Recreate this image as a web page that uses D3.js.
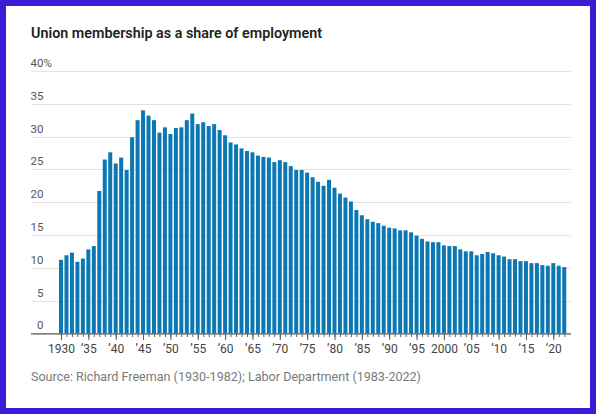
<!DOCTYPE html>
<html>
<head>
<meta charset="utf-8">
<script src="https://cdn.jsdelivr.net/npm/d3@7"></script>
<style>
  html, body { margin: 0; padding: 0; background: #fff; }
  svg { display: block; }
  text { font-family: Roboto, "Open Sans", sans-serif; }
</style>
</head>
<body>
<div id="chart"></div>
<script>
// union membership, share of employment (%)
var years = [1930,1931,1932,1933,1934,1935,1936,1937,1938,1939,
  1940,1941,1942,1943,1944,1945,1946,1947,1948,1949,
  1950,1951,1952,1953,1954,1955,1956,1957,1958,1959,
  1960,1961,1962,1963,1964,1965,1966,1967,1968,1969,
  1970,1971,1972,1973,1974,1975,1976,1977,1978,1979,
  1980,1981,1982,1983,1984,1985,1986,1987,1988,1989,
  1990,1991,1992,1993,1994,1995,1996,1997,1998,1999,
  2000,2001,2002,2003,2004,2005,2006,2007,2008,2009,
  2010,2011,2012,2013,2014,2015,2016,2017,2018,2019,
  2020,2021,2022];

var shares = [11.2,11.9,12.3,10.9,11.4,12.8,13.3,21.7,26.5,27.6,
  25.9,26.8,24.9,29.9,32.5,34.0,33.2,32.5,30.6,31.4,
  30.4,31.3,31.4,32.5,33.5,31.9,32.2,31.6,31.9,31.0,
  30.2,29.1,28.8,28.2,27.8,27.6,27.1,26.9,26.8,26.1,
  26.4,26.1,25.5,24.9,24.9,24.5,23.8,23.1,22.5,23.4,
  22.2,21.3,20.7,20.1,18.8,18.0,17.4,17.0,16.8,16.4,
  16.1,16.0,15.7,15.7,15.4,14.9,14.4,14.0,13.9,13.9,
  13.4,13.3,13.3,12.8,12.5,12.5,11.9,12.1,12.4,12.2,
  11.9,11.7,11.3,11.3,11.0,11.0,10.7,10.7,10.4,10.3,
  10.7,10.3,10.1];

var yTicks = [0, 5, 10, 15, 20, 25, 30, 35, 40];
var yTickLabels = ["0", "5", "10", "15", "20", "25", "30", "35", "40"];

var xTicks = [1930,1935,1940,1945,1950,1955,1960,1965,1970,1975,1980,1985,1990,1995,2000,2005,2010,2015,2020];
var xTickLabels = ["1930","\u201935","\u201940","\u201945","\u201950","\u201955","\u201960","\u201965","\u201970","\u201975",
  "\u201980","\u201985","\u201990","\u201995","2000","\u201905","\u201910","\u201915","\u201920"];

var titleText = "Union membership as a share of employment";
var sourceText = "Source: Richard Freeman (1930-1982); Labor Department (1983-2022)";

var W = 596, H = 414;
var left = 31, right = 571;

var svg = d3.select("#chart").append("svg")
  .attr("width", W).attr("height", H);

// purple frame
svg.append("rect").attr("width", W).attr("height", H).attr("fill", "#3d1bd6");
svg.append("rect").attr("x", 6).attr("y", 6).attr("width", 584).attr("height", 402).attr("fill", "#ffffff");

var step = 5.47;
var x = d3.scaleBand()
  .domain(years)
  .range([61 - step / 2, 61 + step * (years.length - 0.5)])
  .paddingInner(0.27)
  .paddingOuter(0.135);

var y = d3.scaleLinear().domain([0, 40]).range([333.3, 71]);

// title is a narrow face in the original, so squeeze glyphs to its width
svg.append("text")
  .attr("x", left).attr("y", 38)
  .attr("font-size", 15.5).attr("font-weight", 600).attr("fill", "#222")
  .attr("font-family", "'Open Sans', Roboto, sans-serif")
  .attr("textLength", 291).attr("lengthAdjust", "spacingAndGlyphs")
  .text(titleText);

// gridlines + y labels (right aligned numbers, % hangs off the top one)
var grid = svg.append("g");
grid.selectAll("line").data(yTicks.filter(function(d){ return d > 0; }))
  .enter().append("line")
  .attr("x1", left).attr("x2", right)
  .attr("y1", function(d){ return Math.round(y(d)) + 0.5; })
  .attr("y2", function(d){ return Math.round(y(d)) + 0.5; })
  .attr("stroke", "#e2e2e2").attr("stroke-width", 1);

grid.selectAll("text.yl").data(yTicks)
  .enter().append("text")
  .attr("class", "yl")
  .attr("x", 43.5)
  .attr("y", function(d){ return y(d) - 4; })
  .attr("text-anchor", "end")
  .attr("font-size", 11.5).attr("fill", "#555")
  .text(function(d, i){ return yTickLabels[i]; });

grid.append("text")
  .attr("x", 43.5).attr("y", y(40) - 4)
  .attr("font-size", 11.5).attr("fill", "#555")
  .text("%");

// bars
svg.append("g").selectAll("rect").data(shares)
  .enter().append("rect")
  .attr("x", function(d, i){ return x(years[i]); })
  .attr("width", x.bandwidth())
  .attr("y", function(d){ return y(d); })
  .attr("height", function(d){ return y(0) - y(d); })
  .attr("fill", "#0b78b4");

// x axis: minor ticks every year, major every five
var xc = function(d){ return x(d) + x.bandwidth() / 2; };
var xp = d3.scalePoint().domain(years).range([xc(years[0]), xc(years[years.length - 1])]);

var minor = d3.axisBottom(xp).tickSize(3).tickFormat("");
svg.append("g").attr("transform", "translate(0,334)").call(minor)
  .call(function(g){ g.select(".domain").remove(); g.selectAll("line").attr("stroke", "#666"); });

var major = d3.axisBottom(xp)
  .tickValues(xTicks).tickSize(6)
  .tickFormat(function(d){ return xTickLabels[xTicks.indexOf(d)]; });
svg.append("g").attr("transform", "translate(0,334)").call(major)
  .call(function(g){
    g.select(".domain").remove();
    g.selectAll("line").attr("stroke", "#555");
    g.selectAll("text").attr("font-size", 12).attr("fill", "#444")
      .attr("font-family", "Roboto, sans-serif")
      .attr("y", 18.7).attr("dy", null);
  });

svg.append("line")
  .attr("x1", left).attr("x2", right)
  .attr("y1", 333.8).attr("y2", 333.8)
  .attr("stroke", "#555").attr("stroke-width", 1.3);

svg.append("text")
  .attr("x", left).attr("y", 381)
  .attr("font-size", 13.5).attr("fill", "#7a7a7a")
  .attr("textLength", 390).attr("lengthAdjust", "spacingAndGlyphs")
  .text(sourceText);
</script>
</body>
</html>
